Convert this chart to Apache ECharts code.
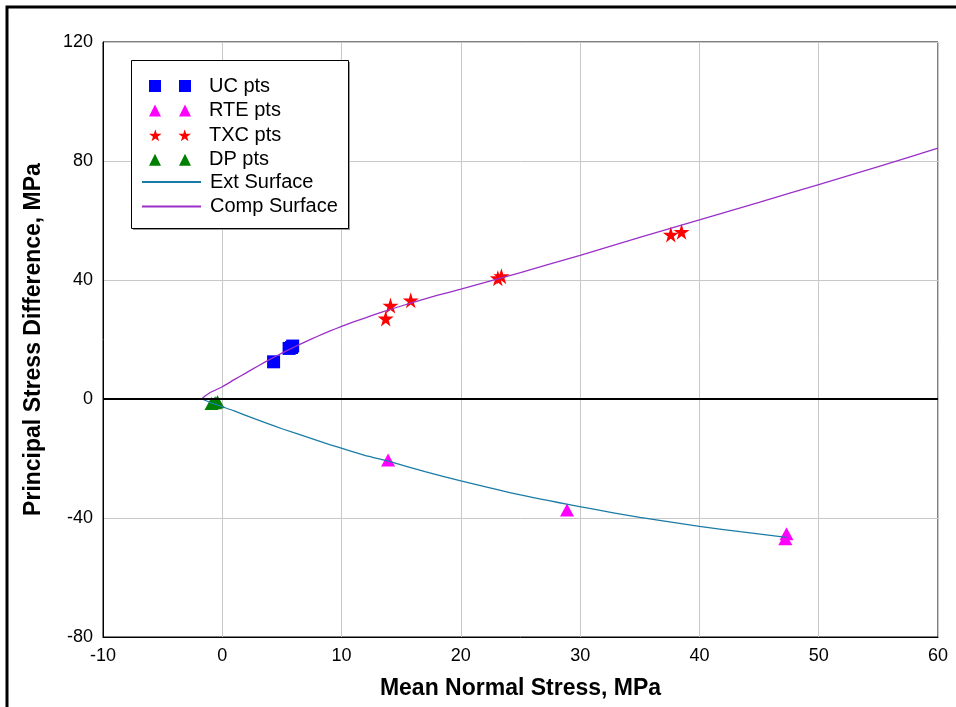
<!DOCTYPE html>
<html>
<head>
<meta charset="utf-8">
<script src="https://cdn.jsdelivr.net/npm/echarts@6/dist/echarts.min.js"></script>
<style>
html,body{margin:0;padding:0;background:#fff;}
#chart{width:956px;height:707px;}
</style>
</head>
<body>
<div id="chart"></div>
<script>
// ---- data ----
const ucPts  = [[4.3,12.5],[5.6,17.0],[5.8,17.3],[5.9,17.8]];
const rtePts = [[13.9,-20.5],[28.9,-37.3],[47.3,-45.3],[47.2,-47.0]];
const txcPts = [[13.7,27.1],[14.1,31.4],[15.8,33.2],[23.1,40.6],[23.4,41.3],[37.6,55.3],[38.5,56.2]];
const dpPts  = [[-0.9,-1.5],[-0.6,-1.3],[-0.4,-0.9]];
const extSurfX = [-1.7,-1.0,0,1,2.8,5,7.5,9,10.7,12.3,14,17,20,25,30.8,35,40,43.4,47.3];
const extSurfY = [0,-1.2,-2.6,-4.0,-6.8,-10.0,-13.3,-15.3,-17.4,-19.3,-21.0,-24.4,-27.5,-32.2,-36.8,-39.8,-42.8,-44.6,-46.5];
const compSurfX = [-1.7,-1.5,-1.2,-0.8,0,1,2,3,4,5,6,7,8,9,10,11,12,13,14,16,18,20,25,30,35,40,45,50,55,60];
const compSurfY = [0,0.8,1.7,2.6,4.1,6.5,8.8,11.1,13.3,15.4,17.4,19.3,21.1,22.8,24.4,25.9,27.3,28.7,30.0,32.5,34.8,36.9,42.5,48.3,54.3,60.2,66.1,72.1,78.1,84.3];
const xTicks = {min:-10, max:60, step:10};
const yTicks = {min:-80, max:120, step:40};
const seriesNames = ['UC pts','RTE pts','TXC pts','DP pts','Ext Surface','Comp Surface'];

const zip = (xs, ys) => xs.map((x,i)=>[x, ys[i]]);
const FONT = 'Liberation Sans, Arial, sans-serif';
const starPath = 'path://M50,0 L61,35 L98,35 L68,57 L79,91 L50,70 L21,91 L32,57 L2,35 L39,35 Z';
const twoSquares = 'path://M0,0h12v12h-12z M30,0h12v12h-12z';
const twoTri = 'path://M6,0L12,12L0,12Z M36,0L42,12L30,12Z';
const twoStars = 'path://M6.6,0L8.05,4.62L12.9,4.62L8.97,7.5L10.4,12L6.6,9.24L2.77,12L4.2,7.5L0.26,4.62L5.15,4.62Z M36,0L37.45,4.62L42.3,4.62L38.37,7.5L39.8,12L36,9.24L32.17,12L33.6,7.5L29.66,4.62L34.55,4.62Z';
const EXT_COLOR = '#1a7ca6';
const COMP_COLOR = '#9b30c8';

const chart = echarts.init(document.getElementById('chart'), null, {renderer:'canvas'});
const option = {
  animation:false,
  backgroundColor:'#fff',
  grid:{left:103,right:18,top:42,bottom:70,show:true,borderColor:'#000',borderWidth:1,backgroundColor:'transparent'},
  xAxis:{
    type:'value', min:xTicks.min, max:xTicks.max, interval:xTicks.step,
    name:'Mean Normal Stress, MPa', nameLocation:'middle', nameGap:40,
    nameTextStyle:{fontFamily:FONT,fontSize:23,fontWeight:'bold',color:'#000'},
    axisLine:{onZero:false,show:true,lineStyle:{color:'#000',width:1}},
    axisTick:{show:false},
    axisLabel:{fontFamily:FONT,fontSize:18,color:'#000',margin:10},
    splitLine:{show:true,lineStyle:{color:'#c8c8c8',width:1}}
  },
  yAxis:{
    type:'value', min:yTicks.min, max:yTicks.max, interval:yTicks.step,
    name:'Principal Stress Difference, MPa', nameLocation:'middle', nameGap:58,
    nameTextStyle:{fontFamily:FONT,fontSize:23,fontWeight:'bold',color:'#000'},
    axisLine:{onZero:false,show:true,lineStyle:{color:'#000',width:1}},
    axisTick:{show:false},
    axisLabel:{fontFamily:FONT,fontSize:18,color:'#000',margin:10},
    splitLine:{show:true,lineStyle:{color:'#c8c8c8',width:1}}
  },
  legend:[
    {
      orient:'vertical', left:149, top:76, padding:0, itemWidth:42, itemHeight:12, itemGap:4.6, z:10,
      selectedMode:false,
      textStyle:{fontFamily:FONT,fontSize:20,color:'#000',padding:[0,0,0,13]},
      data:[
        {name:seriesNames[0],icon:twoSquares},
        {name:seriesNames[1],icon:twoTri},
        {name:seriesNames[2],icon:twoStars},
        {name:seriesNames[3],icon:twoTri}
      ]
    },
    {
      orient:'vertical', left:141, top:172, padding:0, itemWidth:59, itemHeight:12, itemGap:4.6, z:10,
      selectedMode:false,
      textStyle:{fontFamily:FONT,fontSize:20,color:'#000',padding:[0,0,0,4]},
      data:[
        {name:seriesNames[4],itemStyle:{opacity:0}},
        {name:seriesNames[5],itemStyle:{opacity:0}}
      ]
    }
  ],
  graphic:[
    {type:'rect',z:-1,shape:{x:7,y:7,width:1100,height:1100},style:{fill:'none',stroke:'#000',lineWidth:3}},
    {type:'rect',z:1,shape:{x:133,y:62,width:217,height:168},style:{fill:'#9a9a9a',stroke:'none'}},
    {type:'rect',z:2,shape:{x:131.5,y:60.5,width:217,height:168},style:{fill:'#fff',stroke:'#000',lineWidth:1}}
  ],
  series:[
    {name:seriesNames[0],type:'scatter',data:ucPts,symbol:'rect',symbolSize:13,itemStyle:{color:'#0000ff',opacity:1},z:3},
    {name:seriesNames[1],type:'scatter',data:rtePts,symbol:'triangle',symbolSize:[14,13],itemStyle:{color:'#ff00ff',opacity:1},z:3},
    {name:seriesNames[2],type:'scatter',data:txcPts,symbol:starPath,symbolSize:16,itemStyle:{color:'#ff0000',opacity:1},z:3},
    {name:seriesNames[3],type:'scatter',data:dpPts,symbol:'triangle',symbolSize:[14,13],itemStyle:{color:'#008000',opacity:1},z:3},
    {name:seriesNames[4],type:'line',data:zip(extSurfX,extSurfY),smooth:0.2,showSymbol:false,symbol:'none',
      lineStyle:{color:EXT_COLOR,width:1.3},itemStyle:{color:EXT_COLOR},z:4,
      markLine:{silent:true,symbol:'none',label:{show:false},lineStyle:{color:'#000',width:2,type:'solid'},data:[{yAxis:0}]}},
    {name:seriesNames[5],type:'line',data:zip(compSurfX,compSurfY),smooth:0.2,showSymbol:false,symbol:'none',
      lineStyle:{color:COMP_COLOR,width:1.3},itemStyle:{color:COMP_COLOR},z:4}
  ]
};
chart.setOption(option);
</script>
</body>
</html>
